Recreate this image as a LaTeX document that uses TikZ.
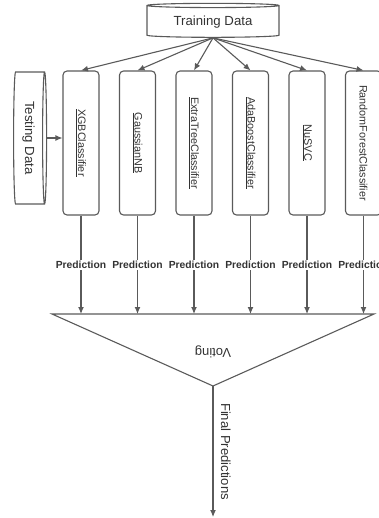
\documentclass[tikz,border=0pt]{standalone}
\usepackage{fontspec}
\setmainfont{Liberation Sans}
\definecolor{vgline}{HTML}{5A5A5A}
\definecolor{vgtext}{HTML}{333333}
\usetikzlibrary{shapes.geometric,arrows.meta,positioning}
\tikzset{
    store/.style={
        cylinder, shape border rotate=90, draw=vgline, line width=1.1pt,
        aspect=0.05, minimum width=132pt, minimum height=34pt,
        text=vgtext, font=\fontsize{13.2}{15}\selectfont
    },
    model/.style={
        draw=vgline, line width=1.1pt, rounded corners=4pt,
        minimum width=36pt, minimum height=144pt,
        text=vgtext, font=\fontsize{10.8}{13}\selectfont
    },
    pred/.style={
        fill=white, inner sep=1pt, text=vgtext,
        font=\fontsize{10.3}{12}\selectfont\bfseries
    },
    arrow/.style={
        -{Latex[length=7pt,width=6pt]}, line width=1.1pt, draw=vgline
    }
}
\newcommand{\vtext}[1]{\rotatebox{-90}{#1}}

\begin{document}
\begin{tikzpicture}[x=1pt, y=-1pt, node distance=19.4pt]
\useasboundingbox (0,0) rectangle (378,518);
\node[store] (train) at (213,22) {Training Data};
\node[store, rotate=-90, minimum height=33pt] (test) at (28.5,138) {Testing Data};
\node[model] (xgb) at (81,143) {\vtext{\underline{XGBClassifier}}};
\node[model, right=of xgb] (gnb) {\vtext{\underline{GaussianNB}}};
\node[model, right=of gnb] (etr) {\vtext{\underline{ExtraTreeClassifier}}};
\node[model, right=of etr] (ada) {\vtext{\underline{AdaBoostClassifier}}};
\node[model, right=of ada] (nusvc) {\vtext{\underline{NuSVC}}};
\node[model, right=of nusvc] (rfc) {\vtext{RandomForestClassifier}};
% training data goes to every model
\foreach \m in {xgb,gnb,etr,ada,nusvc,rfc}
  \draw[arrow] (train.south) -- (\m.north);
\draw[arrow] (test.north) -- (test.north -| xgb.west);
% voting
\coordinate (vl) at (52,314);
\coordinate (vr) at (374,314);
\coordinate (vb) at (213,386);
\draw[line width=1.1pt, draw=vgline] (vl) -- (vr) -- (vb) -- cycle;
\node[rotate=180, text=vgtext, font=\fontsize{13}{15}\selectfont]
  (vote) at (213,352) {Voting};
\foreach \m in {xgb,gnb,etr,ada,nusvc,rfc}
  \draw[arrow] (\m.south) -- node[pred] {Prediction} (\m.south |- vl);
\coordinate (out) at (213,517);
\draw[arrow] (vb) -- node[right=4pt, text=vgtext, font=\fontsize{13.1}{15}\selectfont]
  (final) {\vtext{Final Predictions}} (out);
\end{tikzpicture}
\end{document}
